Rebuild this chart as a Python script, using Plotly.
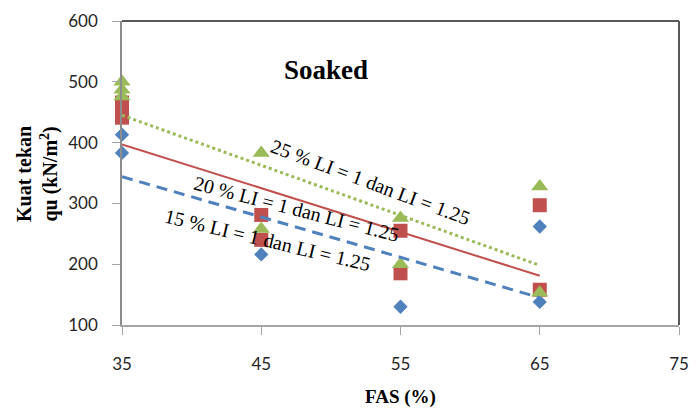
import plotly.graph_objects as go

# ---- data ----
x15 = [35, 35, 45, 55, 65, 65]
y15 = [413, 383, 216, 130, 262, 138]

x20 = [35, 35, 35, 45, 45, 55, 55, 65, 65]
y20 = [466, 455, 441, 281, 240, 255, 185, 297, 158]

x25 = [35, 35, 35, 45, 45, 55, 55, 65, 65]
y25 = [500, 487, 476, 383, 258, 276, 200, 328, 153]

trend_x = [35, 65]
trend15 = [344, 145]
trend20 = [397, 181]
trend25 = [445, 198]

x_ticks = [35, 45, 55, 65, 75]
y_ticks = [100, 200, 300, 400, 500, 600]

BLUE = "#4F81BD"
RED = "#C0504D"
GREEN = "#9BBB59"

fig = go.Figure()
fig.add_trace(go.Scatter(x=x15, y=y15, mode="markers", cliponaxis=False,
                         marker=dict(symbol="diamond", size=11, color=BLUE)))
fig.add_trace(go.Scatter(x=x20, y=y20, mode="markers", cliponaxis=False,
                         marker=dict(symbol="square", size=14, color=RED)))
fig.add_trace(go.Scatter(x=x25, y=y25, mode="markers", cliponaxis=False,
                         marker=dict(symbol="triangle-up", size=15, color=GREEN)))

fig.add_trace(go.Scatter(x=trend_x, y=trend25, mode="lines",
                         line=dict(color=GREEN, width=3, dash="dot")))
fig.add_trace(go.Scatter(x=trend_x, y=trend20, mode="lines",
                         line=dict(color=RED, width=2)))
fig.add_trace(go.Scatter(x=trend_x, y=trend15, mode="lines",
                         line=dict(color=BLUE, width=3, dash="11px,7px")))

serif = "Liberation Serif"
tickfont = dict(family="Lato", size=17, color="#262626")

fig.update_layout(
    width=699, height=411,
    margin=dict(l=122, r=10, t=16, b=86),
    paper_bgcolor="white", plot_bgcolor="white",
    showlegend=False,
    xaxis=dict(range=[35, 75], tickvals=x_ticks, showgrid=False, zeroline=False,
               showline=True, linecolor="#A6A6A6", linewidth=1.5,
               ticks="outside", ticklen=8, tickcolor="#A6A6A6",
               ticklabelstandoff=15, tickfont=tickfont),
    yaxis=dict(range=[100, 600], tickvals=y_ticks, showgrid=False, zeroline=False,
               showline=True, linecolor="#8C8C8C", linewidth=1.5,
               ticks="outside", ticklen=8, tickcolor="#A6A6A6",
               ticklabelstandoff=11, tickfont=tickfont),
    shapes=[
        dict(type="line", xref="paper", yref="paper", x0=0, x1=1, y0=1, y1=1,
             line=dict(color="#595959", width=2)),
        dict(type="line", xref="paper", yref="paper", x0=1, x1=1, y0=0, y1=1,
             line=dict(color="#595959", width=2)),
    ],
)

ann = [
    dict(x=49.67, y=520, text="<b>Soaked</b>", font=dict(family=serif, size=27, color="black")),
    dict(x=52.84, y=335, text="25 % LI = 1 dan LI = 1.25", textangle=20.5,
         font=dict(family=serif, size=20, color="black")),
    dict(x=47.55, y=290, text="20 % LI = 1 dan LI = 1.25", textangle=14.5,
         font=dict(family=serif, size=20, color="black")),
    dict(x=45.44, y=239, text="15 % LI = 1 dan LI = 1.25", textangle=13.5,
         font=dict(family=serif, size=20, color="black")),
]
for a in ann:
    fig.add_annotation(xref="x", yref="y", showarrow=False, xanchor="center",
                       yanchor="middle", **a)

# axis titles
fig.add_annotation(xref="paper", yref="paper", x=(405 - 122) / (689 - 122),
                   y=-(398 - 325) / (325 - 16), showarrow=False,
                   text="<b>FAS (%)</b>", font=dict(family=serif, size=19, color="black"),
                   xanchor="center", yanchor="middle")
fig.add_annotation(xref="paper", yref="paper", x=-(122 - 36) / (689 - 122),
                   y=(325 - 172) / (325 - 16), showarrow=False, textangle=-90,
                   text="<b>Kuat tekan<br>qu (kN/m<sup>2</sup>)</b>",
                   font=dict(family=serif, size=20, color="black"),
                   xanchor="center", yanchor="middle")

fig.write_html("out.html")
